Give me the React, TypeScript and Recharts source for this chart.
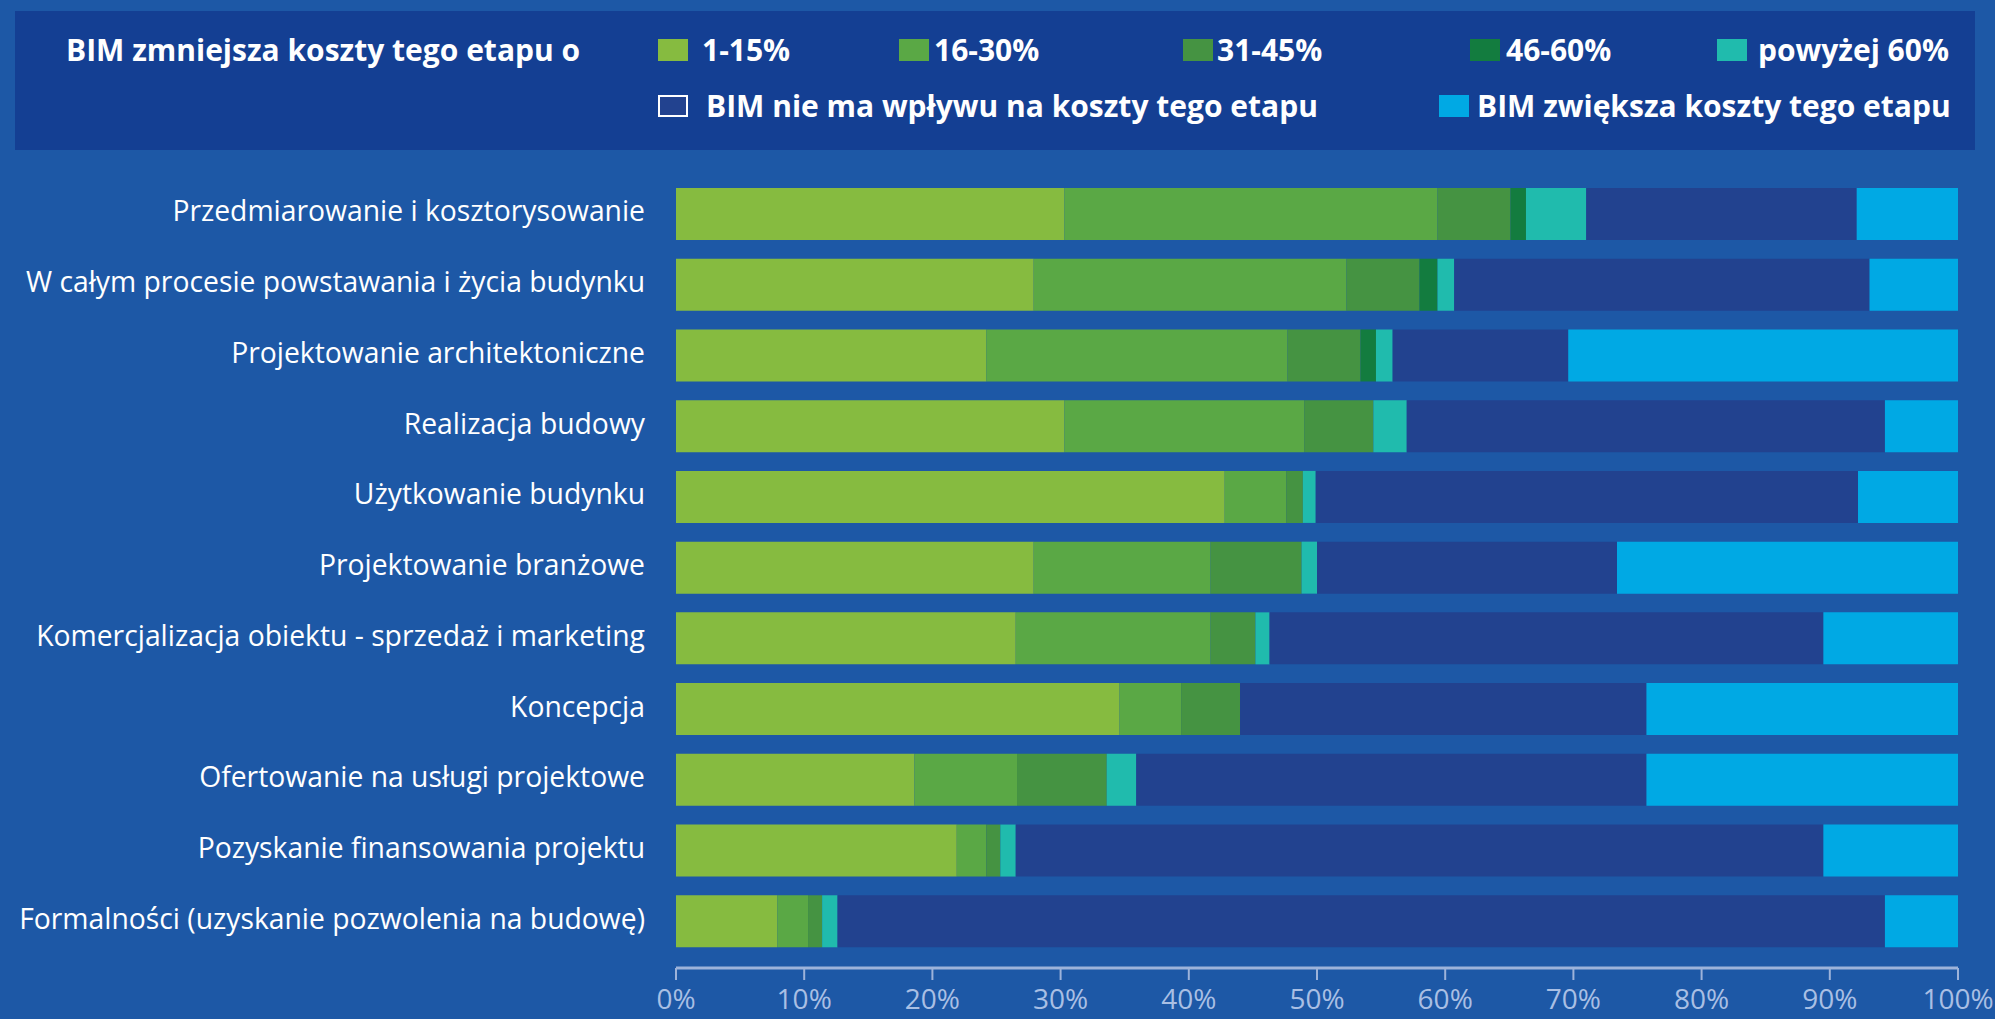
import { BarChart, Bar, XAxis, YAxis } from 'recharts';

// etapy (od góry)
const categories = [
  'Przedmiarowanie i kosztorysowanie',
  'W całym procesie powstawania i życia budynku',
  'Projektowanie architektoniczne',
  'Realizacja budowy',
  'Użytkowanie budynku',
  'Projektowanie branżowe',
  'Komercjalizacja obiektu - sprzedaż i marketing',
  'Koncepcja',
  'Ofertowanie na usługi projektowe',
  'Pozyskanie finansowania projektu',
  'Formalności (uzyskanie pozwolenia na budowę)',
];

// udziały odpowiedzi w %
const r1_15 = [30.3, 27.9, 24.2, 30.3, 42.8, 27.9, 26.5, 34.6, 18.6, 21.9, 7.9];
const r16_30 = [29.1, 24.4, 23.5, 18.7, 4.8, 13.8, 15.2, 4.8, 8.0, 2.3, 2.4];
const r31_45 = [5.7, 5.7, 5.7, 5.4, 1.3, 7.1, 3.5, 4.6, 7.0, 1.1, 1.1];
const r46_60 = [1.2, 1.4, 1.2, 0, 0, 0, 0, 0, 0, 0, 0];
const rOver60 = [4.7, 1.3, 1.3, 2.6, 1.0, 1.2, 1.1, 0, 2.3, 1.2, 1.2];
const noImpact = [21.1, 32.4, 13.7, 37.3, 42.3, 23.4, 43.2, 31.7, 39.8, 63.0, 81.7];
const increases = [7.9, 6.9, 30.4, 5.7, 7.8, 26.6, 10.5, 24.3, 24.3, 10.5, 5.7];

const xTicks = [0, 10, 20, 30, 40, 50, 60, 70, 80, 90, 100];

const seriesKeys = ['r1', 'r2', 'r3', 'r4', 'r5', 'none', 'more'];
const seriesNames = [
  '1-15%',
  '16-30%',
  '31-45%',
  '46-60%',
  'powyżej 60%',
  'BIM nie ma wpływu na koszty tego etapu',
  'BIM zwiększa koszty tego etapu',
];
const COLORS = ['#86bb40', '#5aa845', '#459342', '#137c3f', '#20bbad', '#22428f', '#00a9e4'];

const data = categories.map((name, i) => ({
  name,
  r1: r1_15[i],
  r2: r16_30[i],
  r3: r31_45[i],
  r4: r46_60[i],
  r5: rOver60[i],
  none: noImpact[i],
  more: increases[i],
}));

const FONT = '"Open Sans", "Noto Sans", sans-serif';

// legenda: [indeks serii, x kwadratu, x tekstu, wiersz]
const legendLayout: [number, number, number, number][] = [
  [0, 658, 702, 0],
  [1, 899, 934, 0],
  [2, 1183, 1217, 0],
  [3, 1470, 1506, 0],
  [4, 1717, 1758, 0],
  [5, 658, 706, 1],
  [6, 1439, 1477, 1],
];

const legendText = {
  position: 'absolute' as const,
  fontSize: 30,
  lineHeight: '40px',
  fontWeight: 700,
  color: '#fff',
  whiteSpace: 'nowrap' as const,
};

function Legend() {
  const rowY = [50, 106];
  return (
    <div
      style={{
        position: 'absolute',
        left: 15,
        top: 11,
        width: 1960,
        height: 139,
        background: '#143f93',
      }}
    >
      <div style={{ ...legendText, left: 51, top: rowY[0] - 11 - 20 }}>
        BIM zmniejsza koszty tego etapu o
      </div>
      {legendLayout.map(([si, sx, tx, row]) => {
        const cy = rowY[row] - 11;
        const outline = si === 5;
        return (
          <div key={si}>
            <div
              style={{
                position: 'absolute',
                left: sx - 15,
                top: cy - 11,
                width: outline ? 26 : 30,
                height: outline ? 18 : 22,
                background: COLORS[si],
                border: outline ? '2px solid #fff' : 'none',
              }}
            />
            <div style={{ ...legendText, left: tx - 15, top: cy - 20 }}>{seriesNames[si]}</div>
          </div>
        );
      })}
    </div>
  );
}

export default function App() {
  return (
    <div
      style={{
        position: 'absolute',
        left: 0,
        top: 0,
        width: 1995,
        height: 1019,
        background: '#1d58a6',
        overflow: 'hidden',
        fontFamily: FONT,
      }}
    >
      <Legend />
      <div style={{ position: 'absolute', left: 0, top: 0 }}>
        <BarChart
          width={1995}
          height={1019}
          data={data}
          layout="vertical"
          margin={{ top: 179, right: 37, bottom: 6, left: 0 }}
        >
          <XAxis
            type="number"
            domain={[0, 100]}
            ticks={xTicks}
            interval={0}
            tickFormatter={(v: number) => `${v}%`}
            height={45}
            axisLine={{ stroke: '#9db3da', strokeWidth: 3 }}
            tickLine={{ stroke: '#9db3da', strokeWidth: 2 }}
            tickSize={12}
            tickMargin={9}
            tick={{ fill: '#a9bfe4', fontSize: 28, fontFamily: FONT }}
          />
          <YAxis
            type="category"
            dataKey="name"
            width={676}
            axisLine={false}
            tickLine={false}
            tickSize={0}
            tickMargin={31}
            padding={{ top: 0, bottom: 11 }}
            interval={0}
            tick={{ fill: '#ffffff', fontSize: 28.3, fontFamily: FONT, dy: -3 }}
          />
          {seriesKeys.map((k, i) => (
            <Bar
              key={k}
              dataKey={k}
              name={seriesNames[i]}
              stackId="a"
              fill={COLORS[i]}
              barSize={52}
              isAnimationActive={false}
            />
          ))}
        </BarChart>
      </div>
    </div>
  );
}
